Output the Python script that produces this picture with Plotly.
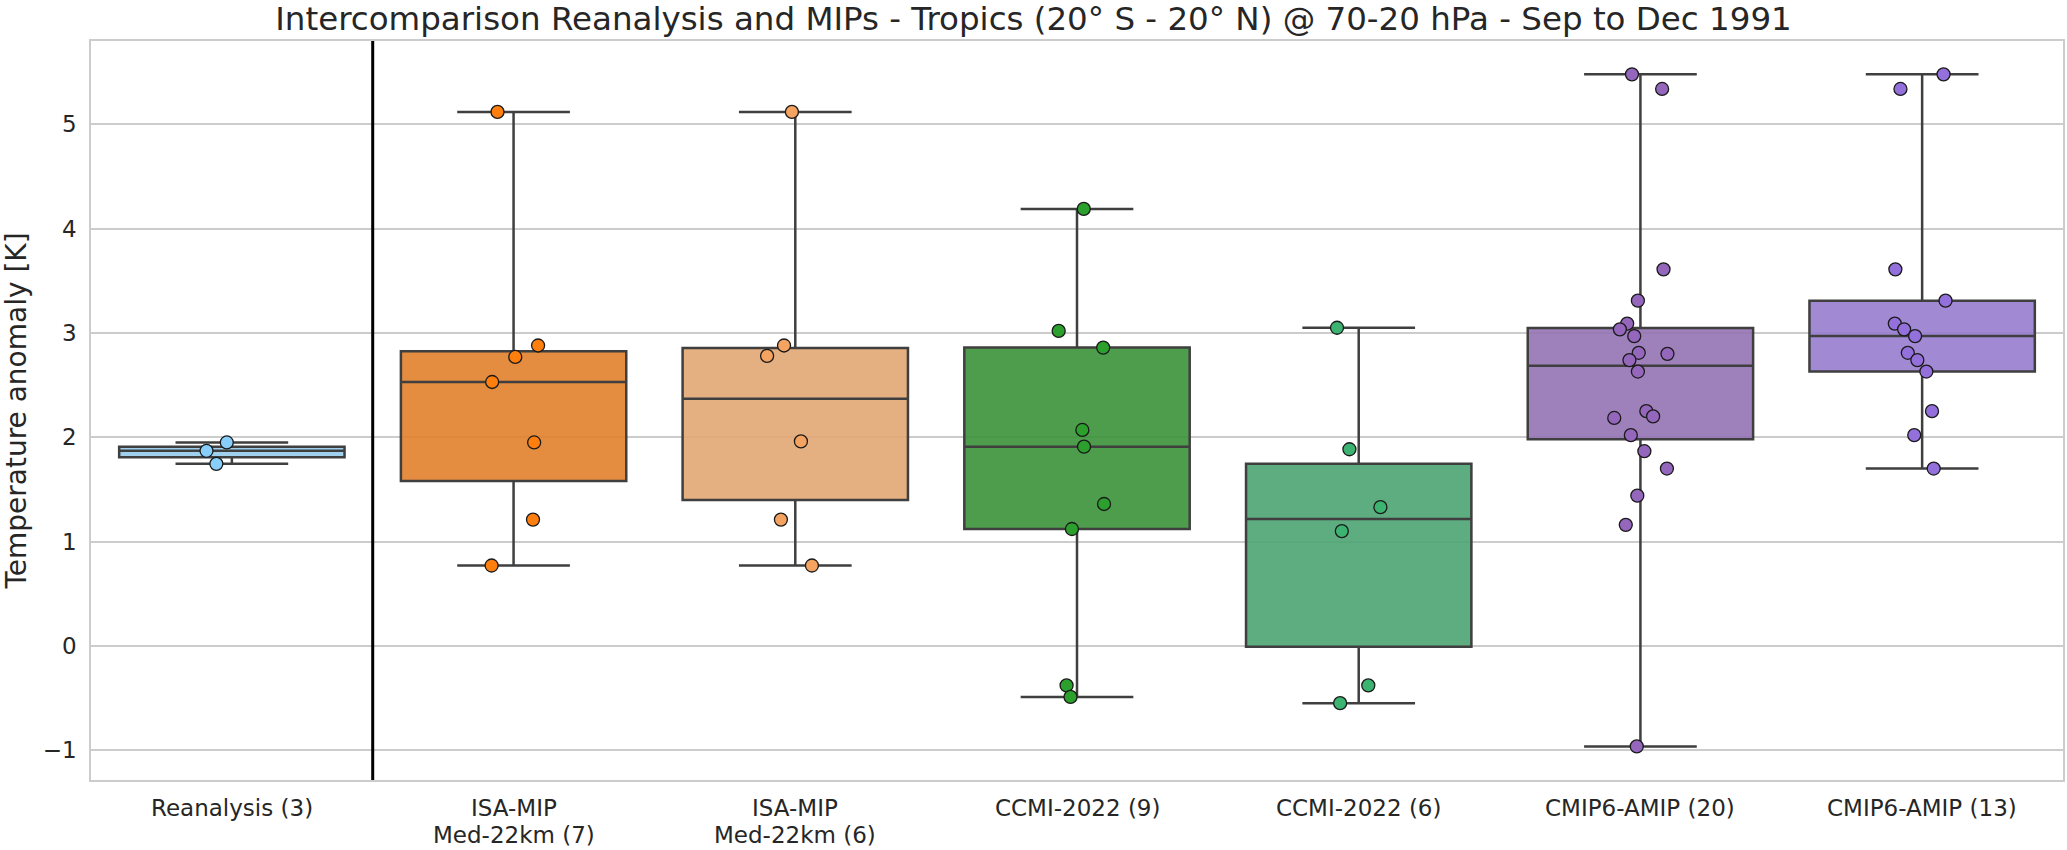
import numpy as np
import plotly.graph_objects as go


# ==================================================
# 1. Data
# ==================================================

categories = [
    "Reanalysis (3)",
    "ISA-MIP<br>Med-22km (7)",
    "ISA-MIP<br>Med-22km (6)",
    "CCMI-2022 (9)",
    "CCMI-2022 (6)",
    "CMIP6-AMIP (20)",
    "CMIP6-AMIP (13)",
]

reanalysis = [1.95, 1.87, 1.745]
isa_mip_7 = [5.12, 2.88, 2.77, 2.53, 1.95, 1.21, 0.77]
isa_mip_6 = [5.12, 2.88, 2.78, 1.96, 1.21, 0.77]
ccmi_9 = [4.19, 3.02, 2.86, 2.07, 1.91, 1.36, 1.12, -0.38, -0.49]
ccmi_6 = [3.05, 1.885, 1.33, 1.10, -0.38, -0.55]
cmip6_20 = [5.48, 5.34, 3.61, 3.31, 3.09, 3.035, 2.97, 2.81, 2.80, 2.74,
            2.63, 2.25, 2.20, 2.185, 2.02, 1.866, 1.70, 1.44, 1.16, -0.965]
cmip6_13 = [5.48, 5.34, 3.61, 3.31, 3.09, 3.035, 2.97, 2.81, 2.74, 2.63,
            2.25, 2.02, 1.70]

# horizontal strip-plot jitter
jit_reanalysis = [-0.018, -0.09, -0.055]
jit_isa_7 = [-0.057, 0.087, 0.006, -0.076, 0.073, 0.069, -0.078]
jit_isa_6 = [-0.012, -0.04, -0.10, 0.02, -0.051, 0.059]
jit_ccmi_9 = [0.024, -0.065, 0.093, 0.019, 0.025, 0.096, -0.018, -0.037, -0.023]
jit_ccmi_6 = [-0.077, -0.033, 0.077, -0.06, 0.034, -0.066]
jit_cmip_20 = [-0.03, 0.077, 0.082, -0.009, -0.047, -0.073, -0.022, -0.006, 0.096,
               -0.039, -0.009, 0.021, 0.045, -0.093, -0.034, 0.014, 0.094, -0.011,
               -0.052, -0.013]
jit_cmip_13 = [0.076, -0.077, -0.095, 0.083, -0.097, -0.064, -0.025, -0.051, -0.017,
               0.015, 0.035, -0.028, 0.041]

groups = [reanalysis, isa_mip_7, isa_mip_6, ccmi_9, ccmi_6, cmip6_20, cmip6_13]
jitters = [jit_reanalysis, jit_isa_7, jit_isa_6, jit_ccmi_9, jit_ccmi_6,
           jit_cmip_20, jit_cmip_13]

point_colors = ["#87CEFA", "#FF7F0E", "#F4A460", "#2CA02C", "#3CB371",
                "#9467BD", "#9370DB"]
box_colors = ["rgba(149,203,236,0.9)", "rgba(225,129,44,0.9)",
              "rgba(225,166,115,0.9)", "rgba(58,146,58,0.9)",
              "rgba(75,164,115,0.9)", "rgba(147,114,178,0.9)",
              "rgba(151,125,206,0.9)"]

y_ticks = [-1, 0, 1, 2, 3, 4, 5]
y_ticktext = ["\u22121", "0", "1", "2", "3", "4", "5"]


# ==================================================
# 2. Figure
# ==================================================

fig = go.Figure()

for i, vals in enumerate(groups):
    v = np.array(vals)
    q1, med, q3 = np.percentile(v, [25, 50, 75])
    fig.add_trace(go.Box(
        x=[i], q1=[q1], median=[med], q3=[q3],
        lowerfence=[v.min()], upperfence=[v.max()],
        width=0.8, whiskerwidth=0.5,
        fillcolor=box_colors[i],
        line=dict(color="#3f3f3f", width=2.5),
        boxpoints=False, showlegend=False,
    ))

for i, vals in enumerate(groups):
    fig.add_trace(go.Scatter(
        x=[i + j for j in jitters[i]], y=vals,
        mode="markers",
        marker=dict(size=13, color=point_colors[i],
                    line=dict(color="#1a1a1a", width=1.3)),
        showlegend=False,
    ))

# separator between reanalysis and models
fig.add_shape(type="line", x0=0.5, x1=0.5, y0=0, y1=1, yref="paper",
              line=dict(color="black", width=3))

# category labels, one annotation per line (tighter line spacing than ticks)
for i, label in enumerate(categories):
    for k, line in enumerate(label.split("<br>")):
        fig.add_annotation(
            x=i, xref="x", y=-0.038 - 0.036 * k, yref="paper",
            text=line, showarrow=False,
            xanchor="center", yanchor="middle",
            font=dict(size=23, color="#262626"),
        )

fig.update_layout(
    width=2067,
    height=850,
    margin=dict(l=91, r=4, t=41, b=70),
    plot_bgcolor="white",
    paper_bgcolor="white",
    font=dict(family="DejaVu Sans", color="#262626"),
    title=dict(
        text="Intercomparison Reanalysis and MIPs - Tropics (20° S - 20° N) @ 70-20 hPa - Sep to Dec 1991",
        x=0.5, xanchor="center", y=1 - 19 / 850, yanchor="middle",
        font=dict(size=32.5, color="#262626"),
    ),
)

fig.update_xaxes(
    range=[-0.5, 6.5],
    tickvals=list(range(len(categories))),
    showticklabels=False,
    showgrid=False, zeroline=False,
    showline=True, mirror=True, linecolor="#cccccc", linewidth=1.5,
    ticks="",
    automargin=False,
)

fig.update_yaxes(
    range=[-1.287, 5.80],
    tickvals=y_ticks,
    ticktext=y_ticktext,
    tickfont=dict(size=23),
    title=dict(text="Temperature anomaly [K]", font=dict(size=28), standoff=12),
    showgrid=True, gridcolor="#cccccc", gridwidth=1.5,
    zeroline=False,
    showline=True, mirror=True, linecolor="#cccccc", linewidth=1.5,
    ticks="", ticklabelstandoff=8,
    automargin=False,
)

# drop the default page margin so the figure starts at the window corner
fig.write_html("out.html", config={"displayModeBar": False},
               post_script="document.body.style.margin = '0';")
